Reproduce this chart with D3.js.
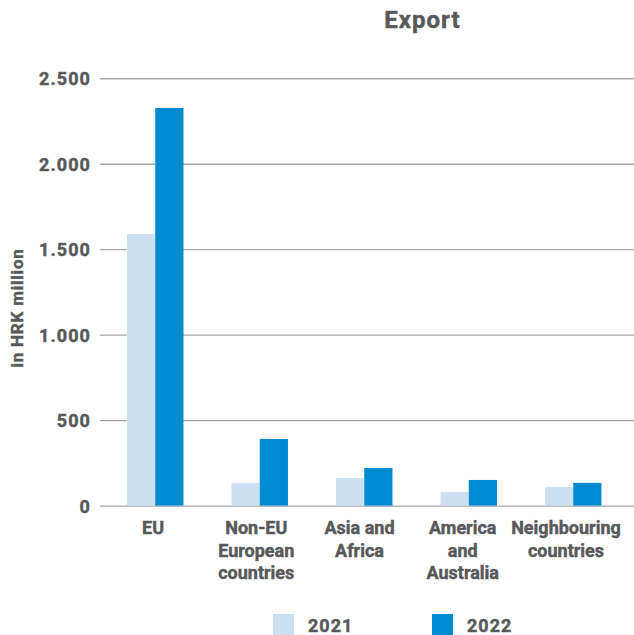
<!DOCTYPE html>
<html>
<head>
<meta charset="utf-8">
<script src="https://cdn.jsdelivr.net/npm/d3@7"></script>
<style>
  html, body { margin: 0; padding: 0; background: #fff; }
  svg text { font-family: Roboto, "Noto Sans", sans-serif; font-weight: 700; fill: #58595b;
             stroke: #58595b; stroke-width: 0.45px; }
</style>
</head>
<body>
<svg id="chart" width="634" height="635"></svg>
<script>
// Export by region, in HRK million
const categories = [
  ["EU"],
  ["Non-EU", "European", "countries"],
  ["Asia and", "Africa"],
  ["America", "and", "Australia"],
  ["Neighbouring", "countries"]
];
const series = ["2021", "2022"];
const values2021 = [1589, 133, 162, 80, 109];
const values2022 = [2326, 390, 220, 150, 133];
const yTicks = [0, 500, 1000, 1500, 2000, 2500];
const yTickLabels = ["0", "500", "1.000", "1.500", "2.000", "2.500"];
const colors = ["#cde0f1", "#008ad0"];

const svg = d3.select("#chart");

const y = d3.scaleLinear().domain([0, 2500]).range([505.6, 78.2]);
const x0 = d3.scaleBand()
  .domain(d3.range(categories.length))
  .range([103, 625.5])
  .paddingInner(0.46)
  .paddingOuter(0.23);
const x1 = d3.scaleBand().domain(series).range([0, x0.bandwidth()]);
// Category labels sit on their own slightly tighter spacing
const xLabel = d3.scalePoint().domain(d3.range(categories.length)).range([153, 566]);

// Gridlines and tick labels
const yAxis = d3.axisLeft(y)
  .tickValues(yTicks)
  .tickFormat((d, i) => yTickLabels[i])
  .tickSize(-(634 - 100))
  .tickPadding(9);

const gAxis = svg.append("g").attr("transform", "translate(100,0)").call(yAxis);
gAxis.select(".domain").remove();
gAxis.selectAll(".tick line").attr("stroke", "#a7a7a7").attr("stroke-width", 1.4);
gAxis.selectAll(".tick text")
  .attr("font-size", 18)
  .attr("letter-spacing", 1.1)
  .attr("dy", "0.36em")
  .style("fill", "#58595b");

// Bars
const data = categories.map((c, i) => ({ i, vals: [values2021[i], values2022[i]] }));
const groups = svg.append("g").selectAll("g").data(data).join("g")
  .attr("transform", d => `translate(${x0(d.i)},0)`);
groups.selectAll("rect")
  .data(d => d.vals.map((v, k) => ({ key: series[k], v, k })))
  .join("rect")
  .attr("x", d => x1(d.key))
  .attr("width", x1.bandwidth())
  .attr("y", d => y(d.v))
  .attr("height", d => y(0) - y(d.v))
  .attr("fill", d => colors[d.k]);

// Category labels
const catG = svg.append("g");
categories.forEach((lines, i) => {
  const cx = xLabel(i);
  const t = catG.append("text")
    .attr("text-anchor", "middle")
    .attr("font-size", 18)
    .attr("x", cx)
    .attr("y", 534);
  lines.forEach((ln, j) => {
    t.append("tspan")
      .attr("x", cx)
      .attr("dy", j === 0 ? 0 : 22.5)
      .text(ln);
  });
});

// Title
svg.append("text")
  .attr("x", 422.5)
  .attr("y", 28)
  .attr("text-anchor", "middle")
  .attr("font-size", 24)
  .attr("letter-spacing", 1)
  .text("Export");

// Y axis title
svg.append("text")
  .attr("transform", "translate(23,308) rotate(-90)")
  .attr("text-anchor", "middle")
  .attr("font-size", 17)
  .attr("letter-spacing", 0.8)
  .text("in HRK million");

// Legend
const legendX = [273, 432];
series.forEach((s, k) => {
  svg.append("rect")
    .attr("x", legendX[k]).attr("y", 614)
    .attr("width", 21).attr("height", 21)
    .attr("fill", colors[k]);
  svg.append("text")
    .attr("x", legendX[k] + 35).attr("y", 632)
    .attr("font-size", 18)
    .attr("letter-spacing", 1)
    .text(s);
});
</script>
</body>
</html>
